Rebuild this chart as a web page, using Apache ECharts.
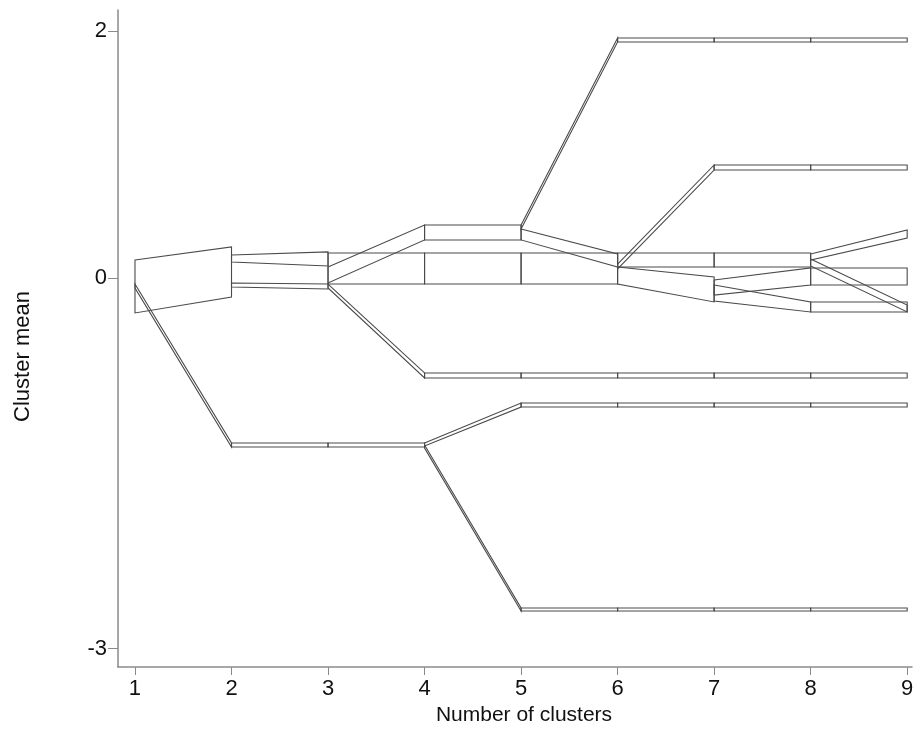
<!DOCTYPE html>
<html>
<head>
<meta charset="utf-8">
<script src="https://cdn.jsdelivr.net/npm/echarts@6/dist/echarts.min.js"></script>
<style>
html,body{margin:0;padding:0;background:#fff;}
#chart{width:919px;height:732px;}
</style>
</head>
<body>
<div id="chart"></div>
<script>
// Clustergram: each band goes from k (number of clusters) to k+1.
// Cluster-mean values at the band's top/bottom edges, left (k) and right (k+1).
const bandFrom = [
  1,1,
  2,2,2,
  3,3,3,3,
  4,4,4,4,4,
  5,5,5,5,5,5,
  6,6,6,6,6,6,6,
  7,7,7,7,7,7,7,7,
  8,8,8,8,8,8,8,8,8
];
const leftTop = [
  0.146, -0.049,
  0.186, -0.040, -1.336,
  0.202, 0.089, -0.049, -1.336,
  0.429, 0.202, -0.769, -1.336, -1.352,
  0.429, 0.397, 0.202, -0.769, -1.012, -2.672,
  1.943, 0.202, 0.113, 0.089, -0.769, -1.012, -2.672,
  1.943, 0.915, 0.202, -0.016, -0.057, -0.769, -1.012, -2.672,
  1.943, 0.915, 0.194, 0.154, 0.081, -0.194, -0.769, -1.012, -2.672
];
const leftBottom = [
  -0.283, -0.081,
  0.130, -0.073, -1.368,
  -0.049, -0.040, -0.081, -1.368,
  0.308, -0.049, -0.810, -1.360, -1.377,
  0.397, 0.308, -0.049, -0.810, -1.045, -2.696,
  1.911, 0.089, 0.073, -0.049, -0.810, -1.045, -2.696,
  1.911, 0.874, 0.089, -0.138, -0.186, -0.810, -1.045, -2.696,
  1.911, 0.874, 0.146, 0.097, -0.057, -0.275, -0.810, -1.045, -2.696
];
const rightTop = [
  0.251, -1.336,
  0.211, -0.049, -1.336,
  0.202, 0.429, -0.769, -1.336,
  0.429, 0.202, -0.769, -1.012, -2.672,
  1.943, 0.194, 0.202, -0.769, -1.012, -2.672,
  1.943, 0.202, 0.915, 0.008, -0.769, -1.012, -2.672,
  1.943, 0.915, 0.202, 0.081, -0.194, -0.769, -1.012, -2.672,
  1.943, 0.915, 0.389, -0.219, 0.081, -0.194, -0.769, -1.012, -2.672
];
const rightBottom = [
  -0.154, -1.368,
  0.097, -0.089, -1.368,
  -0.049, 0.308, -0.810, -1.368,
  0.308, -0.049, -0.810, -1.045, -2.696,
  1.911, 0.089, -0.049, -0.810, -1.045, -2.696,
  1.911, 0.089, 0.874, -0.194, -0.810, -1.045, -2.696,
  1.911, 0.874, 0.089, -0.057, -0.275, -0.810, -1.045, -2.696,
  1.911, 0.874, 0.324, -0.275, -0.057, -0.275, -0.810, -1.045, -2.696
];
const xTicks = [1,2,3,4,5,6,7,8,9];
const yTicks = [-3,0,2];
const xTitle = 'Number of clusters';
const yTitle = 'Cluster mean';

const bands = bandFrom.map((k,i)=>[k, leftTop[i], leftBottom[i], rightTop[i], rightBottom[i]]);

const chart = echarts.init(document.getElementById('chart'));
const font = '"Liberation Sans", Arial, sans-serif';
chart.setOption({
  animation:false,
  backgroundColor:'#fff',
  grid:{left:118,right:7,top:10,bottom:65,containLabel:false},
  xAxis:{
    type:'value', min:0.824, max:9.05,
    splitLine:{show:false},
    axisLine:{show:true,onZero:false,lineStyle:{color:'#8a8a8a',width:1.5}},
    axisTick:{show:true,customValues:xTicks,length:8,lineStyle:{color:'#8a8a8a'}},
    axisLabel:{customValues:xTicks,fontSize:22,color:'#111',margin:11,fontFamily:font},
    name:xTitle,nameLocation:'middle',nameGap:37,
    nameTextStyle:{fontSize:21,color:'#111',fontFamily:font,padding:[0,0,0,18]}
  },
  yAxis:{
    type:'value', min:-3.15, max:2.17,
    splitLine:{show:false},
    axisLine:{show:true,onZero:false,lineStyle:{color:'#8a8a8a',width:1.5}},
    axisTick:{show:true,customValues:yTicks,length:10,lineStyle:{color:'#8a8a8a'}},
    axisLabel:{customValues:yTicks,fontSize:22,color:'#111',margin:11,fontFamily:font},
    name:yTitle,nameLocation:'middle',nameGap:84,
    nameTextStyle:{fontSize:22,color:'#111',fontFamily:font,padding:[0,36,0,0]}
  },
  series:[{
    type:'custom',
    data:bands,
    encode:{x:0,y:[1,2]},
    renderItem:function(params, api){
      const k = api.value(0);
      const p1 = api.coord([k, api.value(1)]);
      const p2 = api.coord([k+1, api.value(3)]);
      const p3 = api.coord([k+1, api.value(4)]);
      const p4 = api.coord([k, api.value(2)]);
      return {
        type:'polygon',
        shape:{points:[p1,p2,p3,p4]},
        style:{fill:'none',stroke:'#4a4a4a',lineWidth:1.1}
      };
    }
  }]
});
</script>
</body>
</html>
